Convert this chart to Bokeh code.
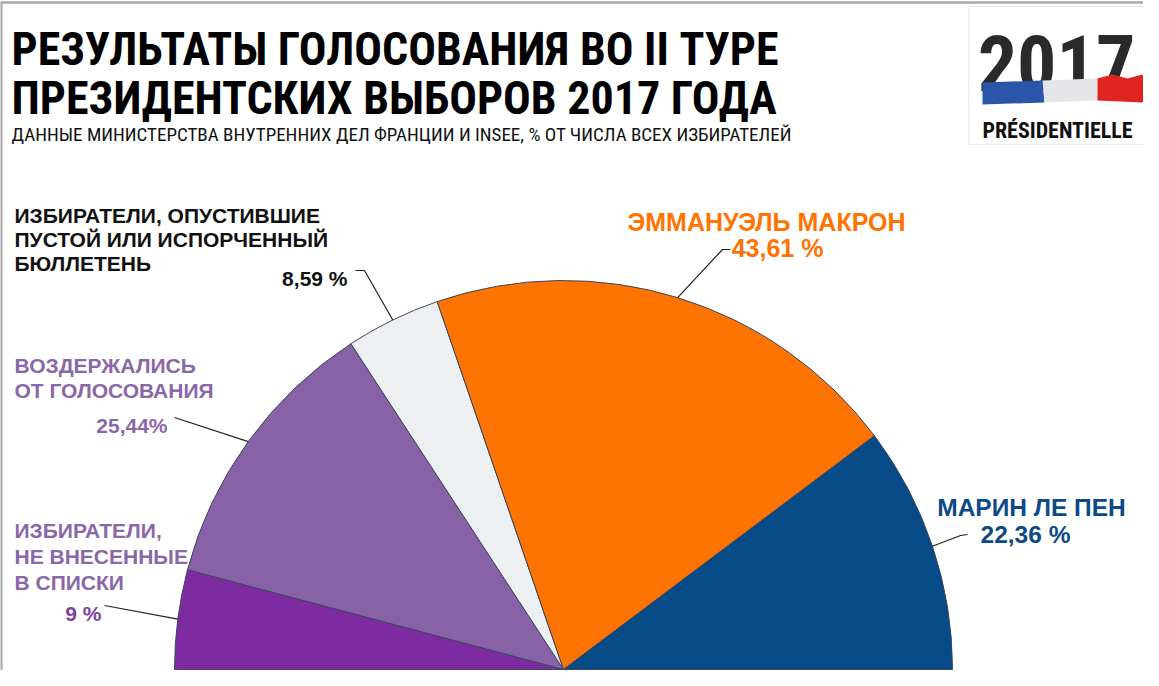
import math
from bokeh.plotting import figure
from bokeh.models import Range1d, ColumnDataSource
from bokeh.core.properties import value
from bokeh.embed import file_html
from bokeh.resources import INLINE

# ---------------- data ----------------
categories = [
    "Избиратели, не внесенные в списки",
    "Воздержались от голосования",
    "Избиратели, опустившие пустой или испорченный бюллетень",
    "Эммануэль Макрон",
    "Марин Ле Пен",
]
values = [9.0, 25.44, 8.59, 43.61, 22.36]
value_labels = ["9 %", "25,44%", "8,59 %", "43,61 %", "22,36 %"]
colors = ["#7E2AA0", "#8862A6", "#EDEFF1", "#FF7300", "#064A87"]

title_lines = ["РЕЗУЛЬТАТЫ ГОЛОСОВАНИЯ ВО II ТУРЕ", "ПРЕЗИДЕНТСКИХ ВЫБОРОВ 2017 ГОДА"]
subtitle = "ДАННЫЕ МИНИСТЕРСТВА ВНУТРЕННИХ ДЕЛ ФРАНЦИИ И INSEE, % ОТ ЧИСЛА ВСЕХ ИЗБИРАТЕЛЕЙ"

# ---------------- layout helpers ----------------
W, H = 1143, 670


def X(x):
    return x - 8


def Y(y):
    return 678 - y


p = figure(width=W, height=H, x_range=Range1d(0, W), y_range=Range1d(0, H),
           output_backend="svg", toolbar_location=None, min_border=0)
p.axis.visible = False
p.grid.visible = False
p.outline_line_color = None
p.background_fill_color = "white"
p.border_fill_color = "white"

# frame lines (top / left)
p.line(x=[X(7), X(1159)], y=[Y(10), Y(10)], line_color="#A8A8A8", line_width=2.5)
p.line(x=[0.8, 0.8], y=[Y(10), Y(690)], line_color="#A8A8A8", line_width=2.5)

# ---------------- half pie ----------------
cx, cy, R = X(571), Y(677), 389
total = sum(values)
ends, starts, mids = [], [], []
cum = 0.0
for v in values:
    e = math.pi - cum / total * math.pi
    s = e - v / total * math.pi
    ends.append(e)
    starts.append(s)
    mids.append((s + e) / 2)
    cum += v

src = ColumnDataSource(dict(start=starts, end=ends, color=colors, cat=categories, val=values))
p.wedge(x=cx, y=cy, radius=R, start_angle="start", end_angle="end",
        fill_color="color", line_color="#3A4560", line_width=1, source=src)

# leader lines: from label anchor to arc at slice mid-angle
anchors = [
    [(112, 613)],
    [(182, 425)],
    [(363, 278), (372, 278)],
    [(738, 257), (730, 257)],
    [(975, 542), (968, 543)],
]
xs, ys = [], []
for pts, m in zip(anchors, mids):
    ax = [X(a) for a, _ in pts] + [cx + R * math.cos(m)]
    ay = [Y(b) for _, b in pts] + [cy + R * math.sin(m)]
    xs.append(ax)
    ys.append(ay)
p.multi_line(xs=xs, ys=ys, line_color="#222222", line_width=1.2)

LBL = value("Liberation Sans")
COND = value("Roboto Condensed")


def txt(x, y, t, size, color, align="left", font=LBL, style="bold"):
    # y is the vertical centre of the capitals in reference pixels
    px = float(size.replace("px", ""))
    p.text(x=[X(x)], y=[Y(y + 0.36 * px)], text=[t], text_font=font, text_font_style=style,
           text_font_size=size, text_color=color, text_align=align,
           text_baseline="alphabetic")


# ---------------- titles ----------------
txt(19, 40, title_lines[0], "46px", "#000000", font=COND)
txt(19, 89, title_lines[1], "46px", "#000000", font=COND)
txt(19, 135, subtitle, "19px", "#111111", font=COND, style="normal")

# ---------------- category labels ----------------
black_lines = ["ИЗБИРАТЕЛИ, ОПУСТИВШИЕ", "ПУСТОЙ ИЛИ ИСПОРЧЕННЫЙ", "БЮЛЛЕТЕНЬ"]
for i, t in enumerate(black_lines):
    txt(22, 215 + 24 * i, t, "21px", "#111111")
txt(355, 278, value_labels[2], "21px", "#111111", align="right")

purple_txt = "#8A67A8"
for i, t in enumerate(["ВОЗДЕРЖАЛИСЬ", "ОТ ГОЛОСОВАНИЯ"]):
    txt(22, 365 + 25 * i, t, "21px", purple_txt)
txt(175, 425, value_labels[1], "21px", purple_txt, align="right")

for i, t in enumerate(["ИЗБИРАТЕЛИ,", "НЕ ВНЕСЕННЫЕ", "В СПИСКИ"]):
    txt(22, 530 + 26 * i, t, "21px", purple_txt)
txt(109, 613, value_labels[0], "21px", "#7D3F9E", align="right")

txt(774, 220, "ЭММАНУЭЛЬ МАКРОН", "25px", "#FF7300", align="center")
txt(785, 246, value_labels[3], "25px", "#FF7300", align="center")

txt(1039, 506, "МАРИН ЛЕ ПЕН", "24.5px", "#0B4A86", align="center")
txt(1033, 533, value_labels[4], "24.5px", "#0B4A86", align="center")

# ---------------- logo ----------------
p.quad(left=X(976), right=X(1152), top=Y(14), bottom=Y(152),
       fill_color="white", line_color="#ECECEC", line_width=1)
txt(1064, 42, "2017", "78px", "#2A2A2A", align="center", font=COND)
# flag ribbon
p.patch(x=[X(990), X(1050), X(1052), X(990)], y=[Y(90), Y(88), Y(110), Y(112)],
        fill_color="#2A55A8", line_color=None)
p.patch(x=[X(1050), X(1105), X(1105), X(1052)], y=[Y(88), Y(86), Y(108), Y(110)],
        fill_color="#E6E6EA", line_color=None)
p.patch(x=[X(1105), X(1120), X(1135), X(1150), X(1158), X(1150), X(1105)],
        y=[Y(86), Y(82), Y(86), Y(82), Y(92), Y(110), Y(108)],
        fill_color="#E0241F", line_color=None)
txt(1065, 130, "PRÉSIDENTIELLE", "22px", "#111111", align="center", font=COND)

open("out.html", "w").write(file_html(p, INLINE))
